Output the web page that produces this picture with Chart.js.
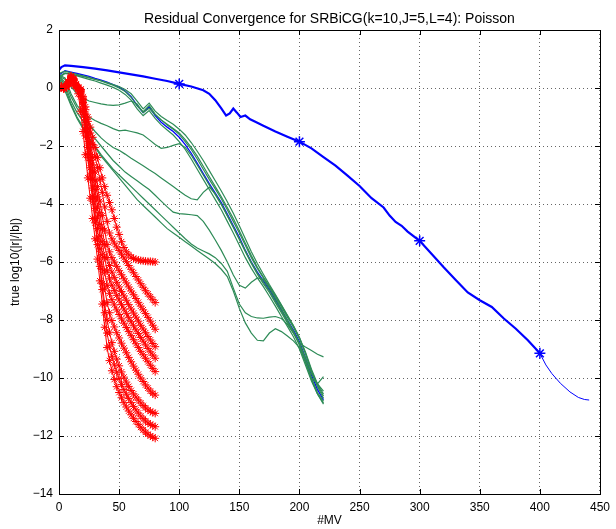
<!DOCTYPE html>
<html>
<head>
<meta charset="UTF-8">
<title>Residual Convergence for SRBiCG</title>
<script src="https://cdn.jsdelivr.net/npm/chart.js@4.4.0/dist/chart.umd.min.js"></script>
<style>
  html, body { margin: 0; padding: 0; background: #fff; }
</style>
</head>
<body>
<canvas id="chart" width="616" height="529"></canvas>
<script>
// ---- data ----
var titleText = 'Residual Convergence for SRBiCG(k=10,J=5,L=4): Poisson';
var xLabel = '#MV';
var yLabel = 'true log10(|r|/|b|)';

// red runs (with * markers), every 2 MV
var redX = [0,2,4,6,8,10,12,14,16,18,20,22,24,26,28,30,32,34,36,38,40,42,44,46,48,50,52,54,56,58,60,62,64,66,68,70,72,74,76,78,80];
var red1 = [0.0,0.04,-0.02,0.05,0.18,0.35,0.28,0.1,0.02,-0.05,-0.3,-0.65,-1.0,-1.35,-1.7,-2.05,-2.4,-2.75,-3.1,-3.4,-3.7,-3.95,-4.2,-4.5,-4.8,-5.05,-5.3,-5.5,-5.65,-5.75,-5.83,-5.88,-5.91,-5.93,-5.95,-5.96,-5.97,-5.98,-5.98,-5.99,-6.0];
var red2 = [0.02,0.06,0.0,0.08,0.22,0.4,0.32,0.14,0.03,-0.05,-0.35,-0.75,-1.15,-1.55,-1.95,-2.35,-2.75,-3.15,-3.6,-4.1,-4.6,-5.0,-5.2,-5.35,-5.48,-5.6,-5.73,-5.86,-5.99,-6.12,-6.25,-6.37,-6.5,-6.62,-6.75,-6.87,-6.99,-7.1,-7.2,-7.3,-7.4];
var red3 = [0.0,0.03,0.02,0.04,0.15,0.3,0.26,0.1,0.0,-0.05,-0.4,-0.9,-1.4,-1.9,-2.4,-2.9,-3.4,-3.9,-4.4,-4.9,-5.4,-5.65,-5.85,-6.0,-6.15,-6.3,-6.44,-6.58,-6.72,-6.86,-7.0,-7.13,-7.26,-7.39,-7.52,-7.65,-7.78,-7.91,-8.04,-8.18,-8.32];
var red4 = [-0.02,0.05,0.0,0.06,0.2,0.36,0.3,0.12,0.0,-0.08,-0.45,-1.0,-1.55,-2.1,-2.65,-3.2,-3.75,-4.3,-4.85,-5.4,-5.85,-6.12,-6.35,-6.53,-6.7,-6.86,-7.02,-7.17,-7.32,-7.47,-7.62,-7.76,-7.9,-8.04,-8.18,-8.31,-8.44,-8.57,-8.69,-8.81,-8.92];
var red5 = [0.0,0.02,-0.03,0.03,0.16,0.32,0.27,0.09,-0.02,-0.1,-0.5,-1.1,-1.7,-2.3,-2.9,-3.5,-4.1,-4.7,-5.3,-5.85,-6.3,-6.58,-6.8,-6.98,-7.15,-7.31,-7.47,-7.62,-7.77,-7.92,-8.06,-8.2,-8.34,-8.47,-8.6,-8.73,-8.86,-8.98,-9.1,-9.21,-9.32];
var red6 = [0.03,0.06,0.01,0.07,0.21,0.42,0.33,0.13,0.01,-0.12,-0.55,-1.2,-1.85,-2.5,-3.15,-3.8,-4.45,-5.1,-5.75,-6.35,-6.8,-7.08,-7.3,-7.48,-7.65,-7.81,-7.96,-8.11,-8.26,-8.4,-8.54,-8.68,-8.82,-8.95,-9.08,-9.2,-9.32,-9.44,-9.56,-9.67,-9.78];
var red7 = [0.0,0.04,-0.01,0.05,0.17,0.34,0.28,0.1,-0.02,-0.15,-0.65,-1.35,-2.05,-2.75,-3.45,-4.15,-4.85,-5.55,-6.25,-6.9,-7.4,-7.75,-8.02,-8.24,-8.44,-8.62,-8.8,-8.97,-9.13,-9.29,-9.44,-9.59,-9.73,-9.87,-10.0,-10.12,-10.24,-10.35,-10.45,-10.53,-10.59];
var red8 = [0.01,0.05,0.0,0.06,0.19,0.37,0.29,0.11,-0.03,-0.2,-0.75,-1.5,-2.25,-3.0,-3.75,-4.5,-5.25,-6.0,-6.75,-7.45,-8.0,-8.42,-8.78,-9.08,-9.35,-9.58,-9.79,-9.97,-10.14,-10.29,-10.43,-10.55,-10.66,-10.76,-10.86,-10.95,-11.03,-11.1,-11.15,-11.19,-11.22];
var red9 = [0.0,0.03,-0.02,0.04,0.14,0.3,0.24,0.07,-0.05,-0.3,-0.9,-1.65,-2.4,-3.15,-3.9,-4.65,-5.4,-6.15,-6.95,-7.75,-8.45,-8.9,-9.25,-9.55,-9.8,-10.02,-10.22,-10.4,-10.56,-10.71,-10.85,-10.98,-11.1,-11.21,-11.31,-11.4,-11.48,-11.55,-11.6,-11.64,-11.68];
var red10 = [0.02,0.05,0.0,0.05,0.18,0.33,0.26,0.06,-0.2,-0.8,-1.5,-2.3,-3.1,-3.8,-4.5,-5.2,-5.9,-6.65,-7.45,-8.25,-8.95,-9.4,-9.75,-10.05,-10.3,-10.5,-10.68,-10.85,-11.0,-11.14,-11.27,-11.39,-11.5,-11.6,-11.7,-11.79,-11.87,-11.94,-12.0,-12.04,-12.08];

// green runs and the thin blue run inside them, every 5 MV
var greenX = [0,5,10,15,20,25,30,35,40,45,50,55,60,65,70,75,80,85,90,95,100,105,110,115,120,125,130,135,140,145,150,155,160,165,170,175,180,185,190,195,200,205,210,215,220];
var blueInner = [0.45,0.6,0.55,0.5,0.45,0.4,0.33,0.27,0.2,0.12,0.03,-0.1,-0.3,-0.6,-0.85,-0.65,-0.95,-1.18,-1.35,-1.5,-1.7,-1.95,-2.25,-2.6,-2.95,-3.3,-3.62,-3.95,-4.35,-4.75,-5.15,-5.6,-6.0,-6.35,-6.65,-6.95,-7.3,-7.65,-8.0,-8.35,-8.75,-9.3,-9.9,-10.4,-10.75];
var green1 = [0.5,0.58,0.52,0.47,0.42,0.37,0.3,0.24,0.17,0.1,0.0,-0.12,-0.32,-0.62,-0.82,-0.6,-0.9,-1.1,-1.28,-1.42,-1.6,-1.85,-2.12,-2.45,-2.8,-3.15,-3.48,-3.82,-4.2,-4.6,-5.0,-5.42,-5.85,-6.22,-6.55,-6.85,-7.15,-7.5,-7.85,-8.2,-8.6,-9.1,-9.7,-10.2,-10.55];
var green2 = [0.4,0.52,0.48,0.44,0.4,0.35,0.3,0.25,0.19,0.12,0.05,-0.05,-0.2,-0.45,-0.72,-0.52,-0.8,-0.98,-1.12,-1.25,-1.42,-1.62,-1.88,-2.18,-2.5,-2.85,-3.2,-3.55,-3.92,-4.32,-4.75,-5.2,-5.65,-6.05,-6.42,-6.78,-7.12,-7.48,-7.84,-8.2,-8.6,-9.15,-9.78,-10.3,-10.7];
var green3 = [0.35,0.5,0.47,0.42,0.36,0.3,0.24,0.17,0.1,0.02,-0.08,-0.22,-0.42,-0.72,-0.95,-0.78,-1.05,-1.27,-1.45,-1.62,-1.85,-2.12,-2.45,-2.8,-3.15,-3.5,-3.85,-4.2,-4.6,-5.0,-5.42,-5.85,-6.22,-6.55,-6.85,-7.18,-7.52,-7.88,-8.22,-8.58,-9.0,-9.55,-10.1,-10.55,-10.86];
var green4 = [0.4,0.3,0.05,-0.2,-0.35,-0.45,-0.5,-0.55,-0.58,-0.6,-0.58,-0.52,-0.45,-0.55,-0.85,-0.7,-0.92,-1.1,-1.25,-1.4,-1.55,-1.78,-2.05,-2.35,-2.7,-3.05,-3.4,-3.75,-4.12,-4.5,-4.92,-5.35,-5.78,-6.18,-6.52,-6.85,-7.2,-7.55,-7.9,-8.25,-8.65,-9.15,-9.75,-10.25,-10.62];
var green5 = [0.45,0.35,-0.2,-0.6,-0.85,-1.0,-1.12,-1.22,-1.3,-1.4,-1.48,-1.45,-1.5,-1.55,-1.62,-1.78,-1.95,-2.08,-2.05,-1.98,-1.92,-2.05,-2.32,-2.65,-3.0,-3.35,-3.68,-4.02,-4.4,-4.8,-5.2,-5.62,-6.02,-6.38,-6.7,-7.0,-7.35,-7.7,-8.05,-8.4,-8.8,-9.3,-9.85,-10.2,-10.45];
var green6 = [0.4,0.2,-0.3,-0.7,-1.0,-1.25,-1.5,-1.72,-1.9,-2.05,-2.15,-2.28,-2.42,-2.55,-2.68,-2.82,-2.95,-3.1,-3.25,-3.4,-3.55,-3.7,-3.82,-3.86,-3.6,-3.42,-3.65,-4.0,-4.4,-4.8,-5.22,-5.65,-6.05,-6.42,-6.75,-7.05,-7.4,-7.75,-8.1,-8.45,-8.85,-9.4,-10.0,-10.5,-10.8];
var green7 = [0.4,0.1,-0.45,-0.85,-1.15,-1.45,-1.75,-2.0,-2.25,-2.5,-2.7,-2.9,-3.05,-3.2,-3.35,-3.5,-3.7,-3.9,-4.1,-4.28,-4.33,-4.35,-4.37,-4.4,-4.6,-4.9,-5.24,-5.6,-6.0,-6.45,-6.8,-6.9,-6.7,-6.55,-6.6,-6.9,-7.25,-7.62,-8.0,-8.4,-8.85,-9.45,-10.0,-10.2,-9.95];
var green8 = [0.35,0.0,-0.55,-1.0,-1.35,-1.7,-2.0,-2.3,-2.55,-2.8,-3.0,-3.2,-3.4,-3.6,-3.8,-4.0,-4.2,-4.4,-4.6,-4.8,-5.0,-5.2,-5.38,-5.52,-5.62,-5.72,-5.85,-6.05,-6.32,-6.9,-7.45,-7.75,-7.88,-7.93,-7.94,-7.9,-7.88,-7.95,-8.15,-8.45,-8.8,-8.93,-9.05,-9.18,-9.27];
var green9 = [0.3,-0.1,-0.6,-1.05,-1.4,-1.75,-2.05,-2.35,-2.6,-2.85,-3.1,-3.35,-3.6,-3.85,-4.05,-4.25,-4.45,-4.65,-4.85,-5.0,-5.15,-5.3,-5.45,-5.6,-5.75,-5.9,-6.05,-6.25,-6.5,-7.0,-7.6,-8.1,-8.45,-8.7,-8.72,-8.45,-8.3,-8.4,-8.55,-8.72,-8.95,-9.45,-10.05,-10.55,-10.9];

// long blue run, * every 100 MV
var blueX = [0,2,5,10,20,30,40,50,60,70,80,90,100,110,120,125,130,135,139,142,145,148,151,155,159,165,170,180,190,200,210,220,230,240,250,260,270,275,280,285,290,300,310,320,330,340,350,360,370,380,390,400,405,410,417,425,432,437,441];
var blueY = [0.62,0.72,0.78,0.76,0.72,0.67,0.61,0.54,0.47,0.4,0.32,0.24,0.14,0.05,-0.08,-0.2,-0.42,-0.7,-0.95,-0.88,-0.71,-0.85,-1.0,-0.95,-1.08,-1.2,-1.3,-1.5,-1.68,-1.85,-2.08,-2.38,-2.68,-3.02,-3.38,-3.8,-4.12,-4.4,-4.62,-4.75,-4.95,-5.27,-5.72,-6.18,-6.62,-7.05,-7.32,-7.55,-7.95,-8.3,-8.7,-9.15,-9.55,-9.85,-10.18,-10.48,-10.67,-10.74,-10.76];
var blueStarX = [100, 200, 300, 400];
var blueThickEnd = 400;

// axes
var xMin = 0, xMax = 450, xStep = 50;
var yMin = -14, yMax = 2, yStep = 2;

var FONT = '"Liberation Sans", Arial, Helvetica, sans-serif';
var RED = '#ff0000', BLUE = '#0000ff', GREEN = '#2e8b57';

function pts(xs, ys) {
    return xs.map(function (x, i) { return { x: x, y: ys[i] }; });
}

var datasets = [];

// red runs go on top
[red1, red2, red3, red4, red5, red6, red7, red8, red9, red10].forEach(function (ys) {
    datasets.push({
        data: pts(redX, ys),
        borderColor: RED,
        borderWidth: 1,
        pointStyle: 'star',
        pointRadius: 4,
        pointBorderColor: RED,
        pointBorderWidth: 1,
        pointBackgroundColor: RED,
        tension: 0
    });
});

datasets.push({
    data: pts(blueX, blueY),
    borderColor: BLUE,
    borderWidth: 2,
    segment: {
        borderWidth: function (ctx) { return ctx.p0.parsed.x >= blueThickEnd ? 1 : 2.2; }
    },
    pointStyle: 'star',
    pointRadius: function (ctx) {
        return ctx.raw && blueStarX.indexOf(ctx.raw.x) >= 0 ? 5.5 : 0;
    },
    pointBorderColor: BLUE,
    pointBorderWidth: 1.5,
    tension: 0
});

[green1, green2, green3, green4, green5, green6, green7, green8, green9].forEach(function (ys) {
    datasets.push({
        data: pts(greenX, ys),
        borderColor: GREEN,
        borderWidth: 1.2,
        pointRadius: 0,
        tension: 0
    });
});

datasets.push({
    data: pts(greenX, blueInner),
    borderColor: BLUE,
    borderWidth: 1.3,
    pointRadius: 0,
    tension: 0
});

function minus(v) { return String(v).replace('-', '\u2212'); }

// box, inward ticks, title and axis labels, MATLAB style
var framePlugin = {
    id: 'frame',
    afterDraw: function (chart) {
        var ctx = chart.ctx, a = chart.chartArea;
        var xs = chart.scales.x, ys = chart.scales.y;
        ctx.save();
        ctx.strokeStyle = '#000';
        ctx.lineWidth = 1;
        ctx.setLineDash([]);
        ctx.strokeRect(Math.round(a.left) + 0.5, Math.round(a.top) + 0.5,
            Math.round(a.right - a.left), Math.round(a.bottom - a.top));
        ctx.beginPath();
        for (var v = xMin; v <= xMax; v += xStep) {
            var px = Math.round(xs.getPixelForValue(v)) + 0.5;
            ctx.moveTo(px, a.bottom); ctx.lineTo(px, a.bottom - 5);
            ctx.moveTo(px, a.top); ctx.lineTo(px, a.top + 5);
        }
        for (var w = yMin; w <= yMax; w += yStep) {
            var py = Math.round(ys.getPixelForValue(w)) + 0.5;
            ctx.moveTo(a.left, py); ctx.lineTo(a.left + 5, py);
            ctx.moveTo(a.right, py); ctx.lineTo(a.right - 5, py);
        }
        ctx.stroke();

        ctx.fillStyle = '#000';
        ctx.textAlign = 'center';
        ctx.font = '14px ' + FONT;
        ctx.textBaseline = 'alphabetic';
        ctx.fillText(titleText, (a.left + a.right) / 2, 23);

        ctx.font = '12px ' + FONT;
        ctx.textBaseline = 'middle';
        ctx.fillText(xLabel, (a.left + a.right) / 2, 521);

        ctx.translate(16, (a.top + a.bottom) / 2);
        ctx.rotate(-Math.PI / 2);
        ctx.fillText(yLabel, 0, 0);
        ctx.restore();
    }
};

new Chart(document.getElementById('chart').getContext('2d'), {
    type: 'line',
    data: { datasets: datasets },
    options: {
        responsive: false,
        animation: false,
        layout: { padding: { top: 30, right: 12, left: 0, bottom: 0 } },
        plugins: {
            legend: { display: false },
            tooltip: { enabled: false },
            title: { display: false }
        },
        elements: { line: { fill: false } },
        scales: {
            x: {
                type: 'linear',
                min: xMin, max: xMax,
                afterFit: function (s) { s.height = 35; },
                ticks: {
                    stepSize: xStep, color: '#000', padding: 6,
                    maxRotation: 0, autoSkip: false,
                    font: { family: FONT, size: 12 }
                },
                grid: { color: 'rgba(0,0,0,0.6)', lineWidth: 1, drawTicks: false },
                border: { display: false, dash: [1, 3] }
            },
            y: {
                type: 'linear',
                min: yMin, max: yMax,
                afterFit: function (s) { s.width = 59; },
                ticks: {
                    stepSize: yStep, color: '#000', padding: 6,
                    font: { family: FONT, size: 12 },
                    callback: function (v) { return minus(v); }
                },
                grid: { color: 'rgba(0,0,0,0.6)', lineWidth: 1, drawTicks: false },
                border: { display: false, dash: [1, 3] }
            }
        }
    },
    plugins: [framePlugin]
});
</script>
</body>
</html>
